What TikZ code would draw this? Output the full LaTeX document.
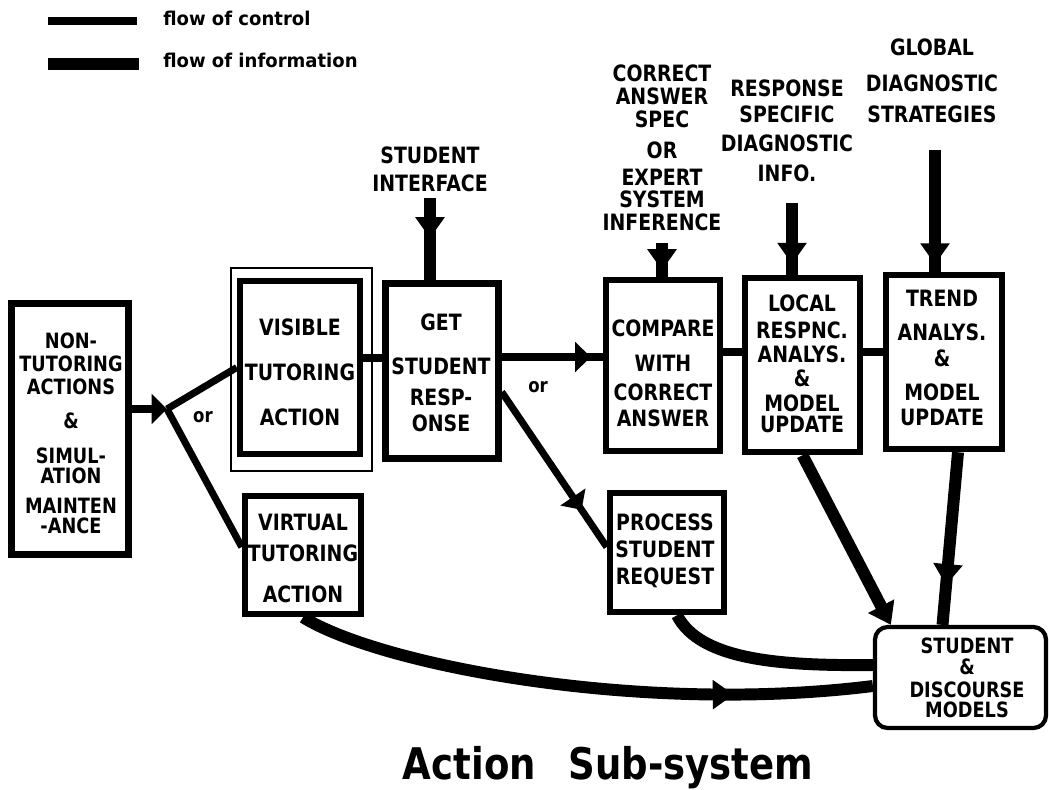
\documentclass[tikz,border=0pt]{standalone}
\usepackage{fontspec}
\newfontfamily\plotfont{DejaVu Sans}[FakeStretch=0.84]
\newfontfamily\legendfont{DejaVu Sans}[FakeStretch=0.95]
\newfontfamily\titlefont{DejaVu Sans}[FakeStretch=0.85]
\usetikzlibrary{arrows.meta,decorations.markings,calc}
% one drawing unit = one pixel of a 1049 x 789 sheet
\newcommand\pxu{0.711319pt}

\tikzset{
  unitbox/.style 2 args={draw, line width=4.6pt, inner sep=0pt,
    minimum width=#1*\pxu, minimum height=#2*\pxu},
  boxtext/.style={font=\plotfont\bfseries\fontsize{16pt}{13.5pt}\selectfont,
    align=center, inner sep=0pt, anchor=north},
  smalltext/.style={boxtext, font=\plotfont\bfseries\fontsize{15pt}{13.5pt}\selectfont},
  ortext/.style={font=\plotfont\bfseries\fontsize{14pt}{14pt}\selectfont, inner sep=0pt},
  legendtext/.style={font=\legendfont\bfseries\fontsize{13.5pt}{14pt}\selectfont,
    inner sep=0pt, anchor=base west},
  ctrl/.style={line width=5pt},
  info/.style={line width=8.5pt},
  ctip/.style={-{Triangle[length=11pt,width=21pt]}},
  itip/.style={-{Triangle[length=15pt,width=20pt]}},
  cmid/.style={postaction={decorate}, decoration={markings,
    mark=at position #1 with {\arrow{Triangle[length=11pt,width=21pt]}}}},
  imid/.style={postaction={decorate}, decoration={markings,
    mark=at position #1 with {\arrow{Triangle[length=15pt,width=20pt]}}}},
}

\begin{document}
\lineskiplimit=-20pt
\begin{tikzpicture}[x=0.025cm,y=-0.025cm]
\fill[white] (0,0) rectangle (1049,789);
\useasboundingbox (0,0) rectangle (1049,789);

% legend
\coordinate (lgc-a) at (48,21);
\coordinate (lgc-b) at (137,21);
\draw[ctrl] (lgc-a) -- (lgc-b);
\node[legendtext] (lgc-t) at (163,25) {flow of control};
\coordinate (lgi-a) at (48,64);
\coordinate (lgi-b) at (139,64);
\draw[info] (lgi-a) -- (lgi-b);
\node[legendtext] (lgi-t) at (163,67) {flow of information};

% process boxes
\node[unitbox={117}{251}] (ntb) at (70,429) {};
\node[smalltext] (ntb-t) at (71,333) {NON-\\[2.8pt]TUTORING\\[2.8pt]ACTIONS\\[10.7pt]\&\\[11.4pt]SIMUL-\\[0.7pt]ATION\\[7.8pt]MAINTEN\\[0.4pt]-ANCE};

\node[draw, line width=1.5pt, inner sep=0pt, minimum width=141*\pxu, minimum height=203*\pxu] (visframe) at (301.5,369.5) {};
\node[unitbox={120}{173}] (vis) at (300,367.5) {};
\node[boxtext] (vis-t) at (300,319) {VISIBLE\\[17.8pt]TUTORING\\[19.2pt]ACTION};

\node[unitbox={113}{175}] (get) at (442,371) {};
\node[boxtext] (get-t) at (441,314) {GET\\[17.1pt]STUDENT\\[9.2pt]RESP-\\[5pt]ONSE};

\node[unitbox={114}{171}] (cmp) at (663,365.5) {};
\node[boxtext] (cmp-t) at (663,320) {COMPARE\\[10.7pt]WITH\\[7.8pt]CORRECT\\[4.3pt]ANSWER};

\node[unitbox={115}{174}] (loc) at (802.5,365) {};
\node[boxtext] (loc-t) at (802,295) {LOCAL\\[5pt]RESPNC.\\[3.6pt]ANALYS.\\[3.6pt]\&\\[4.3pt]MODEL\\[1.4pt]UPDATE};

\node[unitbox={116}{174}] (trd) at (944,362) {};
\node[boxtext] (trd-t) at (942,290) {TREND\\[10.7pt]ANALYS.\\[5pt]\&\\[10.7pt]MODEL\\[4.3pt]UPDATE};

\node[unitbox={116}{118}] (vir) at (303,555) {};
\node[boxtext] (vir-t) at (303,514) {VIRTUAL\\[8.5pt]TUTORING\\[15.6pt]ACTION};

\node[unitbox={114}{119}] (prc) at (667,552.5) {};
\node[boxtext] (prc-t) at (665,514) {PROCESS\\[5pt]STUDENT\\[5.7pt]REQUEST};

\node[draw, line width=3pt, rounded corners=9pt, inner sep=0pt,
  minimum width=171*\pxu, minimum height=101*\pxu] (sdm) at (960.5,677.5) {};
\node[smalltext] (sdm-t) at (967,638) {STUDENT\\[1.2pt]\&\\[2.8pt]DISCOURSE\\[0.7pt]MODELS};

% sources of information above the boxes
\node[boxtext] (si) at (430,147) {STUDENT\\[6.4pt]INTERFACE};
\node[boxtext] (cor) at (662,65) {CORRECT\\[2.8pt]ANSWER\\[2.8pt]SPEC\\[8.5pt]OR\\[5.7pt]EXPERT\\[2.1pt]SYSTEM\\[2.8pt]INFERENCE};
\node[boxtext] (rsp) at (787,80) {RESPONSE\\[4.3pt]SPECIFIC\\[7.8pt]DIAGNOSTIC\\[7.8pt]INFO.};
\node[boxtext] (glb) at (932,39) {GLOBAL\\[12.1pt]DIAGNOSTIC\\[8.5pt]STRATEGIES};

% flow of control
\coordinate (j) at (167,409);
\draw[ctrl,ctip] (ntb.east |- j) -- (j);
\draw[ctrl] (j) -- (vis.west);
\draw[ctrl] (j) -- ($(vir.west)+(0,-8)$);
\node[ortext] (or1) at (203,417) {or};
\draw[ctrl] (vis.east |- 0,358) -- (get.west |- 0,358);
\draw[ctrl,cmid=0.88] (get.east |- 0,357) -- (cmp.west |- 0,357);
\draw[ctrl,cmid=0.76] (get.east |- 0,392) -- (prc.west |- 0,547);
\node[ortext] (or2) at (538,387) {or};
\draw[ctrl] (cmp.east |- 0,352) -- (loc.west |- 0,352);
\draw[ctrl] (loc.east |- 0,352) -- (trd.west |- 0,352);

% flow of information
\coordinate (si-a) at (430,198);
\draw[info,imid=0.49] (si-a) -- (si-a |- get.north);
\coordinate (cor-a) at (662,243);
\draw[info,imid=0.81] (cor-a) -- (cor-a |- cmp.north);
\coordinate (rsp-a) at (792,203);
\draw[info,imid=0.85] (rsp-a) -- (rsp-a |- loc.north);
\coordinate (glb-a) at (935,150);
\draw[info,imid=0.94] (glb-a) -- (glb-a |- trd.north);

\draw[info,itip] (loc.south) -- ($(sdm.north west)+(18,0)$);
\draw[info,imid=0.77] ($(trd.south)+(14,0)$) -- ($(sdm.north)+(-18,0)$);
\draw[info] ($(prc.south)+(10,0)$) .. controls (700,660) and (780,666) .. (sdm.west |- 0,665);
\draw[info,imid=0.76] (vir.south) .. controls (380,665) and (640,715) .. (sdm.west |- 0,686);

% caption
\node[font=\titlefont\bfseries\fontsize{31pt}{31pt}\selectfont, anchor=base, inner sep=0pt]
  (title) at (608,779) {Action\hspace{14pt} Sub-system};
\end{tikzpicture}
\end{document}
